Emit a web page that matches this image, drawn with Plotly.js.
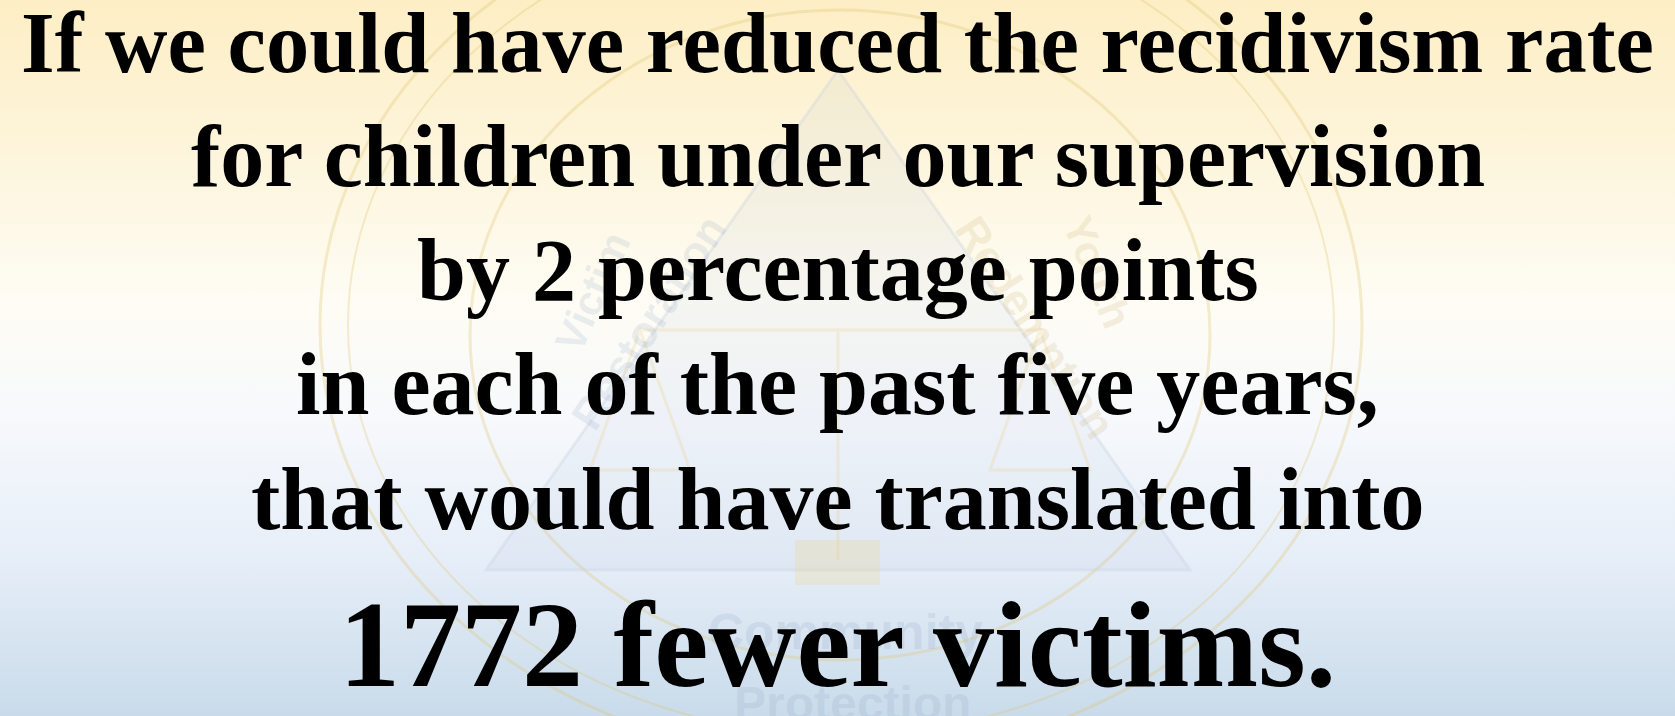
<!DOCTYPE html>
<html>
<head>
<meta charset="utf-8">
<script src="https://cdn.plot.ly/plotly-3.0.1.min.js"></script>
<style>
  html, body { margin:0; padding:0; width:1675px; height:716px; overflow:hidden;
    background: linear-gradient(to bottom, #fdeec4 0%, #fdf5dc 22%, #fefcf4 42%, #f7f9fc 58%, #e6eef8 78%, #c9dbea 100%); }
  #chart { width:1675px; height:716px; }
</style>
</head>
<body>
<div id="chart"></div>
<script>
// Slide text lines (top to bottom)
const lines = [
  "If we could have reduced the recidivism rate",
  "for children under our supervision",
  "by 2 percentage points",
  "in each of the past five years,",
  "that would have translated into",
  "1772 fewer victims."
];
const lineSizes = [86.5, 88, 88, 88, 88, 122];
const lineBaselines = [73, 187, 301, 415, 530, 687];

// Faint watermark words of the seal
const sealWords = ["Victim", "Restoration", "Youth", "Redemption", "Community", "Protection"];

const W = 1675, H = 716;
const annotations = lines.map((t, i) => ({
  text: "<b>" + t + "</b>",
  x: W / 2, y: lineBaselines[i] - 0.345 * lineSizes[i],
  xref: "x", yref: "y", xanchor: "center", yanchor: "middle",
  showarrow: false,
  font: { family: "Liberation Serif, Times New Roman, serif", size: lineSizes[i], color: "#000000" }
}));

const wmB = { family: "Liberation Sans, Arial, sans-serif", color: "rgba(130,155,190,0.17)" };
const wmY = { family: "Liberation Sans, Arial, sans-serif", color: "rgba(200,175,110,0.20)" };
const marks = [
  { text: sealWords[0], x: 592, y: 292, angle: -66, size: 42, f: wmB },
  { text: sealWords[1], x: 648, y: 322, angle: -57, size: 44, f: wmB },
  { text: sealWords[2], x: 1098, y: 272, angle: 68, size: 42, f: wmY },
  { text: sealWords[3], x: 1036, y: 327, angle: 57, size: 44, f: wmY },
  { text: sealWords[4], x: 845, y: 632, angle: 0, size: 50, f: wmB },
  { text: sealWords[5], x: 852, y: 703, angle: 0, size: 48, f: wmB }
].map(m => ({ text: "<b>" + m.text + "</b>", x: m.x, y: m.y, xref: "x", yref: "y", textangle: m.angle,
  showarrow: false, font: Object.assign({ size: m.size }, m.f) }));

const sealLine = "rgba(225,195,110,0.30)";
const shapes = [
  { type: "circle", xref: "x", yref: "y", x0: 320, x1: 1362, y0: -110, y1: 760, line: { color: sealLine, width: 3 } },
  { type: "circle", xref: "x", yref: "y", x0: 348, x1: 1334, y0: -85, y1: 735, line: { color: sealLine, width: 2 } },
  { type: "circle", xref: "x", yref: "y", x0: 470, x1: 1210, y0: 10, y1: 660, line: { color: sealLine, width: 3 } },
  { type: "path", xref: "x", yref: "y", path: "M 838 70 L 1190 570 L 486 570 Z",
    fillcolor: "rgba(170,190,215,0.10)", line: { color: "rgba(200,210,225,0.35)", width: 3 } },
  { type: "path", xref: "x", yref: "y", path: "M 838 330 L 838 560 M 640 330 L 1040 330 M 640 330 L 590 470 L 690 470 Z M 1040 330 L 990 470 L 1090 470 Z",
    line: { color: "rgba(230,200,120,0.22)", width: 3 } },
  { type: "rect", xref: "x", yref: "y", x0: 795, x1: 880, y0: 540, y1: 585,
    fillcolor: "rgba(240,210,130,0.25)", line: { width: 0 } }
];

const layout = {
  width: W, height: H,
  margin: { l: 0, r: 0, t: 0, b: 0 },
  paper_bgcolor: "rgba(0,0,0,0)", plot_bgcolor: "rgba(0,0,0,0)",
  xaxis: { range: [0, W], visible: false, fixedrange: true },
  yaxis: { range: [H, 0], visible: false, fixedrange: true },
  showlegend: false,
  shapes: shapes,
  annotations: marks.concat(annotations)
};

Plotly.newPlot("chart", [{ x: [0], y: [0], mode: "markers", marker: { opacity: 0 }, hoverinfo: "skip" }], layout, { displayModeBar: false, staticPlot: true });
</script>
</body>
</html>
